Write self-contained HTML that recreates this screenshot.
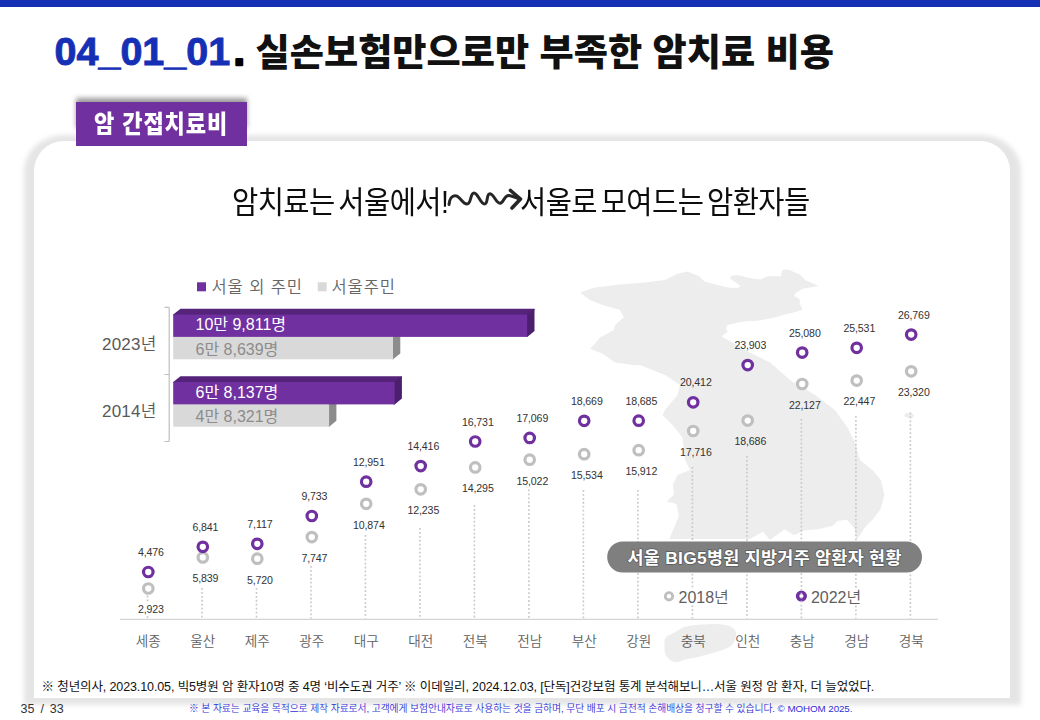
<!DOCTYPE html>
<html lang="ko">
<head>
<meta charset="utf-8">
<style>
*{margin:0;padding:0;box-sizing:border-box}
html,body{width:1040px;height:720px;overflow:hidden;background:#fff}
body{position:relative;font-family:"Liberation Sans","Noto Sans CJK KR",sans-serif;color:#222}
.abs{position:absolute;white-space:nowrap}
#topbar{left:0;top:0;width:1040px;height:6.5px;background:#1530b5}
#t1{left:54.5px;top:22.5px;font:700 39.5px/56px "Liberation Sans",sans-serif;color:#1530b5;-webkit-text-stroke:0.9px #1530b5}
#t3{left:255.5px;top:24.6px;font:900 37.2px/56px "Liberation Sans","Noto Sans CJK KR",sans-serif;color:#111}
#cardsh{left:23.5px;top:134.5px;width:997px;height:570px;background:#e5e5e5;border-radius:40px 40px 0 0/36px 36px 0 0;filter:blur(2.5px)}
#card{left:34px;top:141px;width:976px;height:557px;background:#fff;border-radius:30px 30px 0 0}
#tagshadow{left:76px;top:97.5px;width:171px;height:30px;background:#9a9a9a;filter:blur(2.4px)}
#tag{left:76px;top:102px;width:171px;height:44px;background:#7030a0}
#tagt{left:94px;top:102.5px;color:#fff;font-family:"Liberation Sans","Noto Sans CJK KR",sans-serif;font-weight:900;font-size:24.5px;line-height:44px;letter-spacing:1px;transform:scaleX(0.9);transform-origin:0 0}
#sub1{left:232px;top:182px;font:400 30.5px/40px "Liberation Sans","Noto Sans CJK KR",sans-serif;color:#0d0d0d;letter-spacing:-0.6px;word-spacing:-4px;transform:scaleX(0.935);transform-origin:0 0}
#sub2{left:519.5px;top:182px;font:400 30.5px/40px "Liberation Sans","Noto Sans CJK KR",sans-serif;color:#0d0d0d;letter-spacing:-0.6px;word-spacing:-4px;transform:scaleX(0.935);transform-origin:0 0}
svg{position:absolute;left:0;top:0}
svg text{font-family:"Liberation Sans","Noto Sans CJK KR",sans-serif}
.vl{font-size:10.6px;fill:#333;text-anchor:middle;font-weight:350;letter-spacing:-0.1px}
.cl{font-size:13.6px;fill:#5e5e5e;text-anchor:middle;font-weight:350}
.bw{font-size:16px;fill:#fff;font-weight:400;letter-spacing:0px}
.bg{font-size:16px;fill:#8c8c8c;font-weight:400;letter-spacing:0px}
.yr{font-size:17px;fill:#595959;font-weight:350;letter-spacing:0.2px}
.lg{font-size:16.5px;fill:#666;letter-spacing:0.9px;font-weight:350}
.lg2{font-size:16px;fill:#606060;font-weight:350}
.pill{font-size:17.4px;letter-spacing:0.3px;fill:#fff;font-weight:700;stroke:#5a5a5a;stroke-width:1.6px;paint-order:stroke;stroke-linejoin:round}
#foot{left:41.5px;top:677px;font:400 12.5px/20px "Liberation Sans","Noto Sans CJK KR",sans-serif;color:#111;letter-spacing:-0.115px}
#pg{left:20.5px;top:699.5px;font:400 12.5px/18px "Liberation Sans",sans-serif;color:#333;word-spacing:2.5px}
#copy{left:189px;top:702px;font:350 9.8px/14px "Liberation Sans","Noto Sans CJK KR",sans-serif;color:#3030d8;letter-spacing:-0.08px}
</style>
</head>
<body>
<div class="abs" id="topbar"></div>
<div class="abs" id="t1">04_01_01</div>
<div class="abs" id="t3">실손보험만으로만 부족한 암치료 비용</div>
<div class="abs" id="cardsh"></div>
<div class="abs" id="card"></div>
<div class="abs" id="tagshadow"></div>
<div class="abs" id="tag"></div>
<div class="abs" id="tagt">암 간접치료비</div>
<svg width="1040" height="720" viewBox="0 0 1040 720">
<path d="M580.0,292.5 L595.0,287.5 L620.0,284.5 L645.0,282.5 L665.0,280.0 L677.5,273.8 L687.2,271.5 L698.8,275.9 L704.5,281.6 L716.0,284.5 L727.6,287.4 L737.7,288.1 L740.6,286.0 L730.5,278.8 L730.5,275.9 L737.7,275.1 L749.2,278.0 L760.8,279.5 L766.5,276.6 L772.3,275.9 L781.0,276.6 L782.4,270.1 L788.2,269.4 L799.7,274.4 L805.5,280.2 L818.5,286.0 L809.8,287.4 L802.6,288.8 L795.4,293.2 L794.0,296.0 L799.7,298.9 L799.7,303.3 L802.6,309.8 L795.4,311.9 L783.9,314.8 L773.8,317.7 L759.3,320.6 L747.8,321.3 L740.6,322.0 L727.6,324.9 L726.2,327.8 L727.6,332.1 L723.3,335.0 L721.8,336.4 L745.0,350.0 L770.0,362.5 L790.0,380.0 L815.0,395.0 L835.0,410.0 L847.5,427.5 L855.0,442.5 L860.0,460.0 L872.5,470.0 L880.8,480.0 L884.4,494.4 L880.8,508.8 L873.6,518.5 L866.3,525.7 L856.7,540.0 L854.3,528.0 L847.0,519.7 L837.5,520.9 L832.7,525.7 L818.0,529.3 L803.8,530.5 L794.0,535.3 L784.6,529.3 L770.0,540.0 L763.0,531.7 L750.0,539.0 L669.2,539.0 L674.0,528.0 L678.8,516.0 L676.4,504.0 L666.8,501.6 L674.0,494.4 L672.8,484.8 L677.5,475.0 L690.0,470.0 L685.0,460.0 L682.5,437.5 L672.5,425.0 L662.5,415.0 L665.0,410.0 L677.5,395.0 L680.0,385.0 L665.0,375.0 L640.0,365.0 L632.5,365.0 L615.0,362.5 L602.5,353.8 L590.0,348.8 L593.8,345.0 L600.0,337.5 L613.8,330.0 L615.0,325.0 L623.8,317.5 L620.0,310.0 L602.5,305.0 L590.0,300.0 Z" fill="#ededed"/>
<path d="M665.4,637.9 C666.7,635.5 669.7,635.2 672.3,633.6 C674.9,632.0 678.1,629.7 681.0,628.4 C683.9,627.1 686.0,626.4 689.6,625.8 C693.2,625.1 698.3,624.8 702.6,624.5 C706.9,624.2 711.3,623.9 715.6,624.1 C719.9,624.3 725.3,624.6 728.6,625.8 C731.9,626.9 734.4,629.0 735.5,631.0 C736.6,633.0 736.2,635.4 735.5,637.9 C734.8,640.4 733.4,643.7 731.2,645.7 C729.0,647.7 725.8,648.7 722.5,650.0 C719.2,651.3 715.2,652.4 711.2,653.5 C707.2,654.6 702.6,655.9 698.3,656.9 C694.0,657.9 688.6,658.6 685.3,659.5 C682.0,660.4 680.6,661.8 678.4,662.1 C676.2,662.4 674.3,662.3 672.3,661.3 C670.3,660.3 667.5,658.3 666.2,656.1 C664.9,653.9 664.6,651.3 664.5,648.3 C664.4,645.3 664.1,640.3 665.4,637.9 Z" fill="#ededed"/>
<ellipse cx="909" cy="415.5" rx="4.8" ry="2.4" transform="rotate(8 909 415.5)" fill="#ededed"/>
<circle cx="669" cy="596.3" r="3.7" fill="#fff" stroke="#bfbfbf" stroke-width="2.8"/>
<circle cx="801.4" cy="596.1" r="3.85" fill="#fff" stroke="#7030a0" stroke-width="3.5"/>
<line x1="147.5" y1="595.6" x2="147.5" y2="603.5" stroke="#c8c8c8" stroke-width="1.6" stroke-dasharray="1.8 2.15"/>
<line x1="147.5" y1="616.2" x2="147.5" y2="618.5" stroke="#c8c8c8" stroke-width="1.6" stroke-dasharray="1.8 2.15"/>
<line x1="202.0" y1="588" x2="202.0" y2="618.5" stroke="#c8c8c8" stroke-width="1.6" stroke-dasharray="1.8 2.15"/>
<line x1="256.5" y1="588" x2="256.5" y2="618.5" stroke="#c8c8c8" stroke-width="1.6" stroke-dasharray="1.8 2.15"/>
<line x1="311.0" y1="566" x2="311.0" y2="618.5" stroke="#c8c8c8" stroke-width="1.6" stroke-dasharray="1.8 2.15"/>
<line x1="365.4" y1="535" x2="365.4" y2="618.5" stroke="#c8c8c8" stroke-width="1.6" stroke-dasharray="1.8 2.15"/>
<line x1="419.9" y1="528" x2="419.9" y2="618.5" stroke="#c8c8c8" stroke-width="1.6" stroke-dasharray="1.8 2.15"/>
<line x1="474.4" y1="505" x2="474.4" y2="618.5" stroke="#c8c8c8" stroke-width="1.6" stroke-dasharray="1.8 2.15"/>
<line x1="528.9" y1="489.5" x2="528.9" y2="618.5" stroke="#c8c8c8" stroke-width="1.6" stroke-dasharray="1.8 2.15"/>
<line x1="583.4" y1="490" x2="583.4" y2="618.5" stroke="#c8c8c8" stroke-width="1.6" stroke-dasharray="1.8 2.15"/>
<line x1="637.9" y1="490" x2="637.9" y2="618.5" stroke="#c8c8c8" stroke-width="1.6" stroke-dasharray="1.8 2.15"/>
<line x1="692.4" y1="467" x2="692.4" y2="618.5" stroke="#c8c8c8" stroke-width="1.6" stroke-dasharray="1.8 2.15"/>
<line x1="746.9" y1="456" x2="746.9" y2="618.5" stroke="#c8c8c8" stroke-width="1.6" stroke-dasharray="1.8 2.15"/>
<line x1="801.4" y1="419" x2="801.4" y2="618.5" stroke="#c8c8c8" stroke-width="1.6" stroke-dasharray="1.8 2.15"/>
<line x1="855.9" y1="416" x2="855.9" y2="618.5" stroke="#c8c8c8" stroke-width="1.6" stroke-dasharray="1.8 2.15"/>
<line x1="910.4" y1="412.5" x2="910.4" y2="618.5" stroke="#c8c8c8" stroke-width="1.6" stroke-dasharray="1.8 2.15"/>
<line x1="120" y1="619.4" x2="938" y2="619.4" stroke="#d4d4d4" stroke-width="1.2"/>
<circle cx="148.3" cy="588.5" r="4.75" fill="#fff" stroke="#bfbfbf" stroke-width="3.2"/>
<circle cx="148.3" cy="572.0" r="4.75" fill="#fff" stroke="#7030a0" stroke-width="3.2"/>
<text x="150.9" y="556.0" class="vl">4,476</text>
<text x="150.9" y="613.3" class="vl">2,923</text>
<text x="148.3" y="645.8" class="cl">세종</text>
<circle cx="202.8" cy="557.4" r="4.75" fill="#fff" stroke="#bfbfbf" stroke-width="3.2"/>
<circle cx="202.8" cy="546.8" r="4.75" fill="#fff" stroke="#7030a0" stroke-width="3.2"/>
<text x="205.4" y="530.8" class="vl">6,841</text>
<text x="205.4" y="582.2" class="vl">5,839</text>
<text x="202.8" y="645.8" class="cl">울산</text>
<circle cx="257.3" cy="558.7" r="4.75" fill="#fff" stroke="#bfbfbf" stroke-width="3.2"/>
<circle cx="257.3" cy="543.8" r="4.75" fill="#fff" stroke="#7030a0" stroke-width="3.2"/>
<text x="259.9" y="527.8" class="vl">7,117</text>
<text x="259.9" y="583.5" class="vl">5,720</text>
<text x="257.3" y="645.8" class="cl">제주</text>
<circle cx="311.8" cy="537.1" r="4.75" fill="#fff" stroke="#bfbfbf" stroke-width="3.2"/>
<circle cx="311.8" cy="516.0" r="4.75" fill="#fff" stroke="#7030a0" stroke-width="3.2"/>
<text x="314.4" y="500.0" class="vl">9,733</text>
<text x="314.4" y="561.9" class="vl">7,747</text>
<text x="311.8" y="645.8" class="cl">광주</text>
<circle cx="366.2" cy="503.8" r="4.75" fill="#fff" stroke="#bfbfbf" stroke-width="3.2"/>
<circle cx="366.2" cy="481.7" r="4.75" fill="#fff" stroke="#7030a0" stroke-width="3.2"/>
<text x="368.8" y="465.7" class="vl">12,951</text>
<text x="368.8" y="528.6" class="vl">10,874</text>
<text x="366.2" y="645.8" class="cl">대구</text>
<circle cx="420.7" cy="489.3" r="4.75" fill="#fff" stroke="#bfbfbf" stroke-width="3.2"/>
<circle cx="420.7" cy="466.1" r="4.75" fill="#fff" stroke="#7030a0" stroke-width="3.2"/>
<text x="423.3" y="450.1" class="vl">14,416</text>
<text x="423.3" y="514.1" class="vl">12,235</text>
<text x="420.7" y="645.8" class="cl">대전</text>
<circle cx="475.2" cy="467.4" r="4.75" fill="#fff" stroke="#bfbfbf" stroke-width="3.2"/>
<circle cx="475.2" cy="441.5" r="4.75" fill="#fff" stroke="#7030a0" stroke-width="3.2"/>
<text x="477.8" y="425.5" class="vl">16,731</text>
<text x="477.8" y="492.2" class="vl">14,295</text>
<text x="475.2" y="645.8" class="cl">전북</text>
<circle cx="529.7" cy="459.7" r="4.75" fill="#fff" stroke="#bfbfbf" stroke-width="3.2"/>
<circle cx="529.7" cy="437.9" r="4.75" fill="#fff" stroke="#7030a0" stroke-width="3.2"/>
<text x="532.3" y="421.9" class="vl">17,069</text>
<text x="532.3" y="484.5" class="vl">15,022</text>
<text x="529.7" y="645.8" class="cl">전남</text>
<circle cx="584.2" cy="454.2" r="4.75" fill="#fff" stroke="#bfbfbf" stroke-width="3.2"/>
<circle cx="584.2" cy="420.8" r="4.75" fill="#fff" stroke="#7030a0" stroke-width="3.2"/>
<text x="586.8" y="404.8" class="vl">18,669</text>
<text x="586.8" y="479.0" class="vl">15,534</text>
<text x="584.2" y="645.8" class="cl">부산</text>
<circle cx="638.7" cy="450.2" r="4.75" fill="#fff" stroke="#bfbfbf" stroke-width="3.2"/>
<circle cx="638.7" cy="420.7" r="4.75" fill="#fff" stroke="#7030a0" stroke-width="3.2"/>
<text x="641.3" y="404.7" class="vl">18,685</text>
<text x="641.3" y="475.0" class="vl">15,912</text>
<text x="638.7" y="645.8" class="cl">강원</text>
<circle cx="693.2" cy="431.0" r="4.75" fill="#fff" stroke="#bfbfbf" stroke-width="3.2"/>
<circle cx="693.2" cy="402.3" r="4.75" fill="#fff" stroke="#7030a0" stroke-width="3.2"/>
<text x="695.8" y="386.3" class="vl">20,412</text>
<text x="695.8" y="455.8" class="vl">17,716</text>
<text x="693.2" y="645.8" class="cl">충북</text>
<circle cx="747.7" cy="420.6" r="4.75" fill="#fff" stroke="#bfbfbf" stroke-width="3.2"/>
<circle cx="747.7" cy="365.1" r="4.75" fill="#fff" stroke="#7030a0" stroke-width="3.2"/>
<text x="750.3" y="349.1" class="vl">23,903</text>
<text x="750.3" y="445.4" class="vl">18,686</text>
<text x="747.7" y="645.8" class="cl">인천</text>
<circle cx="802.2" cy="384.0" r="4.75" fill="#fff" stroke="#bfbfbf" stroke-width="3.2"/>
<circle cx="802.2" cy="352.6" r="4.75" fill="#fff" stroke="#7030a0" stroke-width="3.2"/>
<text x="804.8" y="336.6" class="vl">25,080</text>
<text x="804.8" y="408.8" class="vl">22,127</text>
<text x="802.2" y="645.8" class="cl">충남</text>
<circle cx="856.7" cy="380.6" r="4.75" fill="#fff" stroke="#bfbfbf" stroke-width="3.2"/>
<circle cx="856.7" cy="347.8" r="4.75" fill="#fff" stroke="#7030a0" stroke-width="3.2"/>
<text x="859.3" y="331.8" class="vl">25,531</text>
<text x="859.3" y="405.4" class="vl">22,447</text>
<text x="856.7" y="645.8" class="cl">경남</text>
<circle cx="911.2" cy="371.3" r="4.75" fill="#fff" stroke="#bfbfbf" stroke-width="3.2"/>
<circle cx="911.2" cy="334.6" r="4.75" fill="#fff" stroke="#7030a0" stroke-width="3.2"/>
<text x="913.8" y="318.6" class="vl">26,769</text>
<text x="913.8" y="396.1" class="vl">23,320</text>
<text x="911.2" y="645.8" class="cl">경북</text>
<polygon points="392,337 393,337 400.3,331.16 400.3,353.46000000000004 393,359.3 392,359.3" fill="#8c8c8c"/><rect x="173.2" y="337" width="219.8" height="22.30000000000001" fill="#d9d9d9"/>
<polygon points="173.2,315.6 173.2,314.6 180.5,308.76000000000005 534.5,308.76000000000005 534.5,309.76000000000005 527.2,315.6" fill="#55237a"/><polygon points="526.2,314.6 527.2,314.6 534.5,308.76000000000005 534.5,331.06 527.2,336.9 526.2,336.9" fill="#4b1f6d"/><rect x="173.2" y="314.6" width="354.00000000000006" height="22.299999999999955" fill="#7030a0"/>
<polygon points="328.1,404.4 329.1,404.4 336.40000000000003,398.56 336.40000000000003,420.86 329.1,426.7 328.1,426.7" fill="#8c8c8c"/><rect x="173.2" y="404.4" width="155.90000000000003" height="22.30000000000001" fill="#d9d9d9"/>
<polygon points="173.2,383 173.2,382 180.5,376.16 401.90000000000003,376.16 401.90000000000003,377.16 394.6,383" fill="#55237a"/><polygon points="393.6,382 394.6,382 401.90000000000003,376.16 401.90000000000003,398.56 394.6,404.4 393.6,404.4" fill="#4b1f6d"/><rect x="173.2" y="382" width="221.40000000000003" height="22.399999999999977" fill="#7030a0"/>
<path d="M169.2,307.4 V441.5 M164.5,307.4 H169.2 M164.5,374.5 H169.2 M164.5,441.5 H169.2" stroke="#bfbfbf" stroke-width="1.2" fill="none"/>
<text x="195.5" y="330" class="bw">10만 9,811명</text>
<text x="195.5" y="354.6" class="bg">6만 8,639명</text>
<text x="195.5" y="397.5" class="bw">6만 8,137명</text>
<text x="195.5" y="421.5" class="bg">4만 8,321명</text>
<text x="156.5" y="349.5" class="yr" text-anchor="end">2023년</text>
<text x="156.5" y="416.5" class="yr" text-anchor="end">2014년</text>
<rect x="197" y="282.3" width="9" height="9" fill="#7030a0"/>
<text x="211.5" y="292.5" class="lg">서울 외 주민</text>
<rect x="317.7" y="282.3" width="9" height="9" fill="#d9d9d9"/>
<text x="331.5" y="292.5" class="lg">서울주민</text>
<rect x="607.2" y="541.4" width="314.8" height="31.1" rx="15.55" fill="#7f7f7f"/>
<text x="764.6" y="564" class="pill" text-anchor="middle">서울 BIG5병원 지방거주 암환자 현황</text>
<rect x="677" y="588" width="52" height="17" fill="#fff"/>
<text x="678.5" y="602.6" class="lg2">2018년</text>
<rect x="809" y="588" width="53" height="17" fill="#fff"/>
<text x="810.9" y="602.6" class="lg2">2022년</text>
<path d="M449,204.5 C449.5,199 452,195.5 455.5,195.8 C460,196 462.5,204 467,204 C471.5,204 470,193 474,193 C478,193 480.5,204 484.5,204 C488.5,204 486,193.5 490,193.7 C494,194 496,203.5 500,203.3 C504,203 504,195 509,195.5 C513,196 516,198 519,199" fill="none" stroke="#262626" stroke-width="3" stroke-linecap="round"/>
<path d="M510.5,190.5 L520.5,199 L512,208" fill="none" stroke="#262626" stroke-width="3.6" stroke-linecap="round" stroke-linejoin="round"/>
<text x="233.8" y="64.6" style="font:700 39.5px 'Liberation Sans',sans-serif;fill:#000;stroke:#000;stroke-width:2.4px;stroke-linejoin:round">.</text>
</svg>
<div class="abs" id="sub1">암치료는 서울에서!</div>
<div class="abs" id="sub2">서울로 모여드는 암환자들</div>
<div class="abs" id="foot">※ 청년의사, 2023.10.05, 빅5병원 암 환자10명 중 4명 ‘비수도권 거주’ ※ 이데일리, 2024.12.03, [단독]건강보험 통계 분석해보니…서울 원정 암 환자, 더 늘었었다.</div>
<div class="abs" id="pg">35 / 33</div>
<div class="abs" id="copy">※ 본 자료는 교육을 목적으로 제작 자료로서, 고객에게 보험안내자료로 사용하는 것을 금하며, 무단 배포 시 금전적 손해배상을 청구할 수 있습니다. © MOHOM 2025.</div>
</body>
</html>
